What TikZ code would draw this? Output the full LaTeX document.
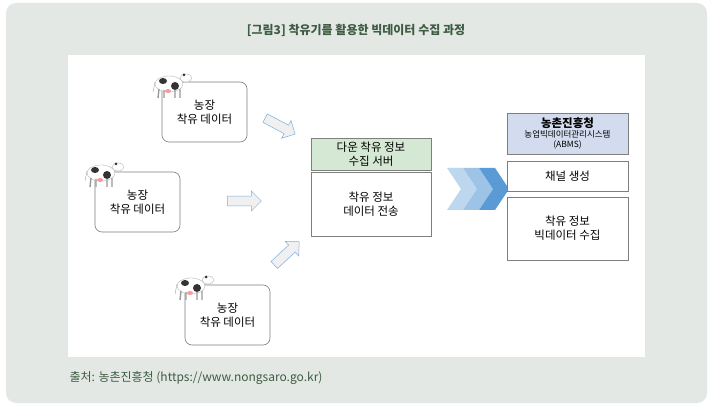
\documentclass[tikz,border=0pt]{standalone}
\usepackage{fontspec}
\setmainfont{Noto Sans CJK KR}
\usetikzlibrary{shapes.arrows,shapes.geometric}
\definecolor{bgg}{HTML}{E3E8E5}
\definecolor{ttl}{HTML}{3E5C42}
\definecolor{grn}{HTML}{D5E8D4}
\definecolor{blu}{HTML}{D2DCEE}
\definecolor{bd}{HTML}{7F7F7F}
\definecolor{c1}{HTML}{BDD7EE}
\definecolor{c2}{HTML}{9DC3E6}
\definecolor{c3}{HTML}{5B9BD5}
\tikzset{
 farm/.style={draw=bd,rounded corners=7pt,fill=white,minimum width=85pt,minimum height=60pt,align=center,font=\fontsize{11.5}{14}\selectfont,line width=0.6pt},
 sq/.style={draw=bd,fill=white,align=center,font=\fontsize{11.5}{14}\selectfont,line width=0.6pt},
 blk/.style={single arrow,draw=c3!80,fill=gray!12,minimum height=34pt,minimum width=20pt,single arrow head extend=3pt,inner sep=2.5pt,line width=0.5pt},
}
\newcommand{\cow}[1]{%
 \begin{scope}[shift={#1}]
  \fill[white,draw=gray!70,line width=0.3pt] (0,0) ellipse (14pt and 8pt);
  \fill[black!80] (-6,-3) ellipse (4pt and 3pt);
  \fill[black!80] (6,2) ellipse (4pt and 4pt);
  \draw[gray!80,line width=1.4pt] (-10,5)--(-11,14) (-5,6)--(-5,14) (6,6)--(6,14) (11,5)--(11,14);
  \fill[pink!80!red] (-1,7) ellipse (3pt and 2pt);
  \fill[white,draw=gray!70,line width=0.3pt] (17,-6) ellipse (6pt and 4pt);
  \fill[black!80] (15,-9) circle (1.5pt);
  \draw[gray!70] (-14,-2)--(-16,8);
 \end{scope}}
\begin{document}
\begin{tikzpicture}[x=1pt,y=-1pt]
\useasboundingbox (0,0) rectangle (713,406);
\fill[bgg,rounded corners=10pt] (6,3) rectangle (707,403);
\node[font=\bfseries\fontsize{12}{14}\selectfont,text=ttl] (title) at (356,30) {[그림3] 착유기를 활용한 빅데이터 수집 과정};
\fill[white] (68,55) rectangle (645,357);
\node[anchor=west,font=\fontsize{12}{14}\selectfont,text=ttl] (src) at (66,378) {출처: 농촌진흥청 (https://www.nongsaro.go.kr)};
\node[farm] (f1) at (204.5,112) {농장\\착유 데이터};
\node[farm] (f2) at (137.5,202) {농장\\착유 데이터};
\node[farm] (f3) at (227.5,315) {농장\\착유 데이터};
\cow{(169,84)}
\cow{(101,173)}
\cow{(191,286)}
\node[blk,rotate=-28] (a1) at (278,125) {};
\node[blk] (a2) at (242,201) {};
\node[blk,rotate=43] (a3) at (285,255) {};
\node[sq,fill=grn,minimum width=120pt,minimum height=32pt] (sh) at (371,154) {다운 착유 정보\\수집 서버};
\node[sq,minimum width=120pt,minimum height=64pt] (sb) at (371,204) {착유 정보\\데이터 전송};
\foreach \i/\c in {0/c1, 1/c2, 2/c3}{
 \fill[\c] (447+\i*16,168) -- (463+\i*16,168) -- (477+\i*16,189) -- (463+\i*16,210) -- (447+\i*16,210) -- (461+\i*16,189) -- cycle;}
\coordinate (ch) at (471,189);
\node[sq,fill=blu,minimum width=121pt,minimum height=41pt,font=\fontsize{8.5}{10}\selectfont] (rh) at (567.5,133.5) {{\fontsize{11.5}{13}\selectfont\bfseries 농촌진흥청}\\농업빅데이터관리시스템\\(ABMS)};
\node[sq,minimum width=121pt,minimum height=30pt] (r1) at (567.5,176) {채널 생성};
\node[sq,minimum width=121pt,minimum height=63pt] (r2) at (567.5,228.5) {착유 정보\\빅데이터 수집};
\end{tikzpicture}
\end{document}
